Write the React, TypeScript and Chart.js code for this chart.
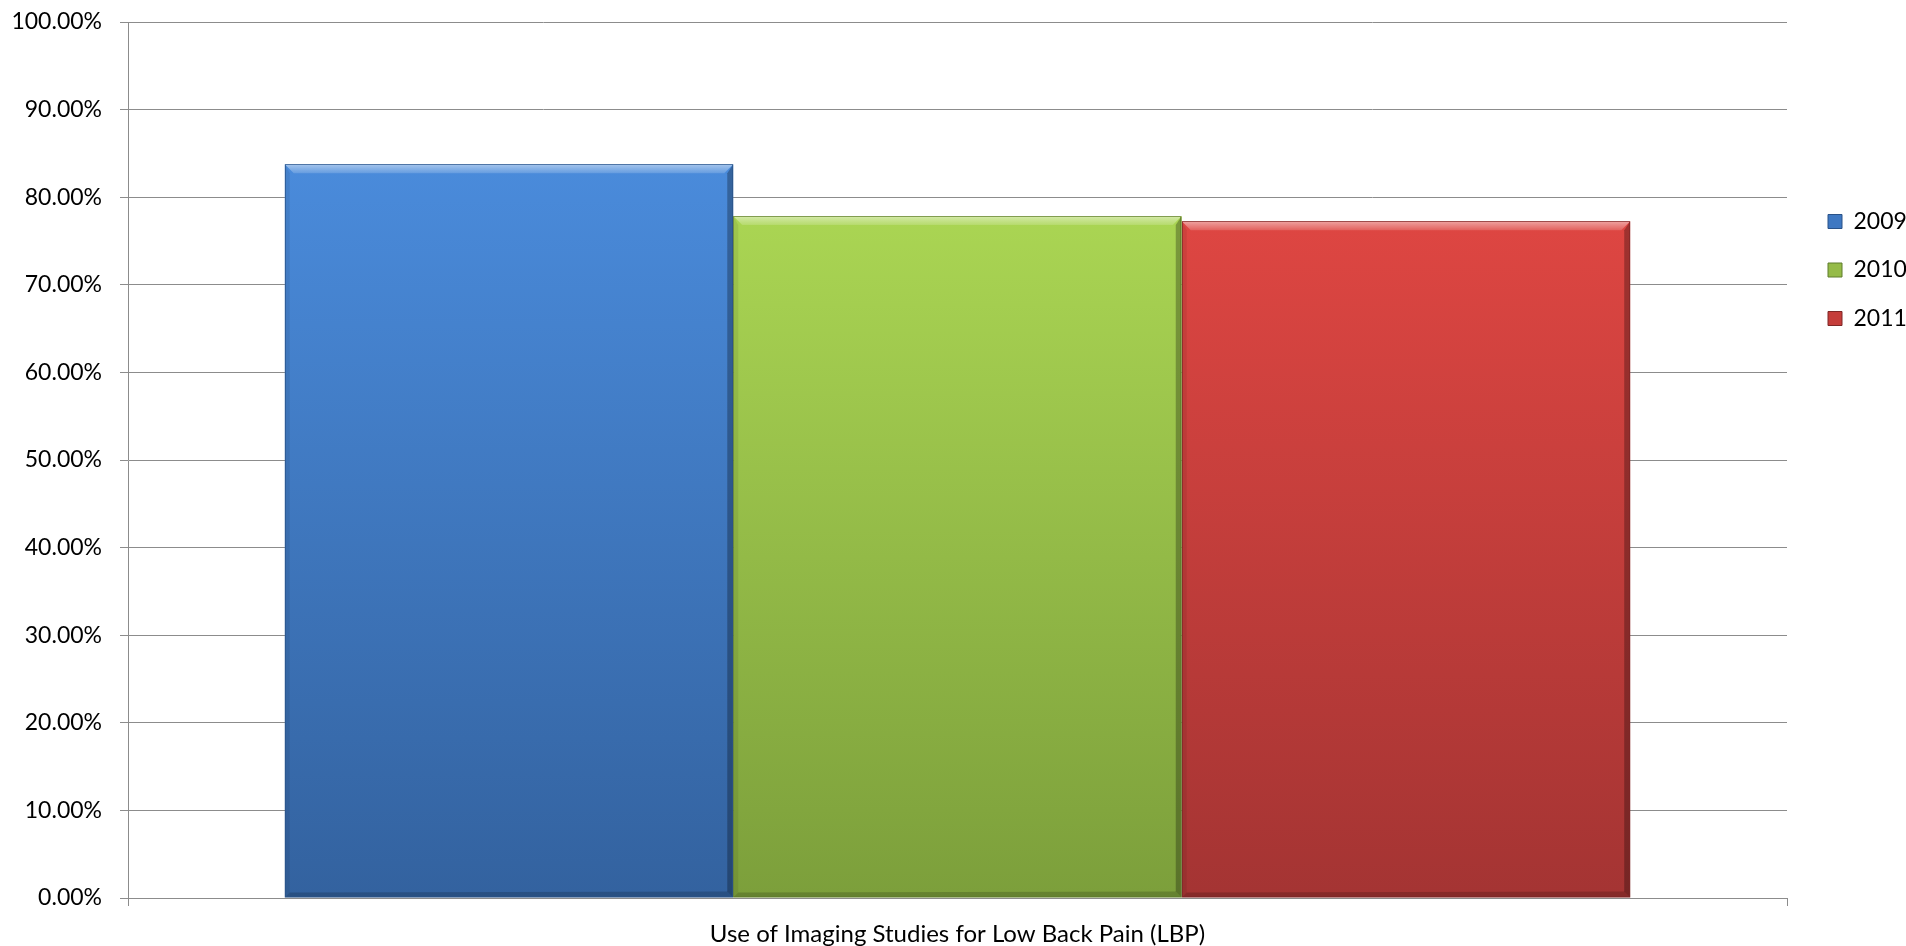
import React, { useEffect, useRef } from 'react';
import { Chart, registerables } from 'chart.js';

Chart.register(...registerables);

const categories: string[] = ['Use of Imaging Studies for Low Back Pain (LBP)'];
const seriesNames: string[] = ['2009', '2010', '2011'];
const values2009: number[] = [0.8375];
const values2010: number[] = [0.7785];
const values2011: number[] = [0.7725];
const yTickValues: number[] = [0, 0.1, 0.2, 0.3, 0.4, 0.5, 0.6, 0.7, 0.8, 0.9, 1.0];

const topColors = ['#4a8bdb', '#aad553', '#de4642'];
const bottomColors = ['#33629f', '#7c9f3b', '#a43433'];
const midColors = ['#3f78c2', '#95bb48', '#c53d3a'];
const edgeColors = ['#2a5288', '#5f7c2c', '#7e2726'];

const FONT = 'Lato, "Open Sans", "Liberation Sans", sans-serif';
const GRID = '#8c8c8c';

const gradientFill = (i: number) => (ctx: any) => {
  const chart = ctx.chart;
  const area = chart.chartArea;
  if (!area || ctx.parsed == null || ctx.parsed.y == null) return midColors[i];
  const yScale = chart.scales.y;
  const t = yScale.getPixelForValue(ctx.parsed.y);
  const b = yScale.getPixelForValue(0);
  const g = chart.ctx.createLinearGradient(0, t, 0, b);
  g.addColorStop(0, topColors[i]);
  g.addColorStop(1, bottomColors[i]);
  return g;
};

const bevelPlugin = {
  id: 'bevel',
  afterDatasetsDraw(chart: any) {
    const c = chart.ctx;
    chart.data.datasets.forEach((_ds: any, i: number) => {
      const meta = chart.getDatasetMeta(i);
      meta.data.forEach((bar: any) => {
        const { x, y, base, width } = bar.getProps(['x', 'y', 'base', 'width'], true);
        const l = x - width / 2;
        const r = x + width / 2;
        const t = y;
        const b = base;
        const bv = 9;
        c.save();
        const tg = c.createLinearGradient(0, t, 0, t + bv);
        tg.addColorStop(0, 'rgba(255,255,255,0.5)');
        tg.addColorStop(1, 'rgba(255,255,255,0.15)');
        c.fillStyle = tg;
        c.beginPath();
        c.moveTo(l, t);
        c.lineTo(r, t);
        c.lineTo(r - bv, t + bv);
        c.lineTo(l + bv, t + bv);
        c.closePath();
        c.fill();
        c.fillStyle = 'rgba(0,0,0,0.28)';
        c.beginPath();
        c.moveTo(r, t);
        c.lineTo(r, b);
        c.lineTo(r - 6, b - 6);
        c.lineTo(r - 6, t + bv);
        c.closePath();
        c.fill();
        c.fillStyle = 'rgba(0,0,0,0.07)';
        c.beginPath();
        c.moveTo(l, t);
        c.lineTo(l + 5, t + bv);
        c.lineTo(l + 5, b - 5);
        c.lineTo(l, b);
        c.closePath();
        c.fill();
        c.fillStyle = 'rgba(0,0,0,0.18)';
        c.beginPath();
        c.moveTo(l, b);
        c.lineTo(r, b);
        c.lineTo(r - 6, b - 6);
        c.lineTo(l + 5, b - 5);
        c.closePath();
        c.fill();
        c.strokeStyle = edgeColors[i];
        c.globalAlpha = 0.7;
        c.lineWidth = 1;
        c.strokeRect(Math.round(l) + 0.5, Math.round(t) + 0.5, Math.round(r - l) - 1, Math.round(b - t) - 1);
        c.restore();
      });
    });
  },
};

const legendPlace = {
  id: 'legendPlace',
  afterLayout(chart: any) {
    const lg = chart.legend;
    if (!lg) return;
    const pad = lg.options.labels.padding;
    lg.left = 1828 - pad;
    lg.top = 210 - pad;
    lg.right = 1906;
    lg.bottom = 600;
    lg.width = lg.right - lg.left;
    lg.height = lg.bottom - lg.top;
  },
};

export default function App() {
  const canvasRef = useRef<HTMLCanvasElement | null>(null);

  useEffect(() => {
    if (!canvasRef.current) return;
    const seriesValues = [values2009, values2010, values2011];
    const chart = new Chart(canvasRef.current, {
      type: 'bar',
      data: {
        labels: categories,
        datasets: seriesNames.map((name, i) => ({
          label: name,
          data: seriesValues[i],
          backgroundColor: gradientFill(i),
          borderWidth: 0,
          categoryPercentage: 0.811,
          barPercentage: 1.0,
        })),
      },
      options: {
        responsive: false,
        animation: false,
        layout: { padding: { top: 22, right: 119, left: 0, bottom: 0 } },
        plugins: {
          title: { display: false },
          tooltip: { enabled: false },
          legend: {
            display: true,
            position: 'chartArea',
            align: 'start',
            labels: {
              boxWidth: 14,
              boxHeight: 14,
              padding: 25.5,
              color: '#000',
              font: { family: FONT, size: 23 },
              generateLabels: () =>
                seriesNames.map((name, i) => ({
                  text: name,
                  fillStyle: midColors[i],
                  strokeStyle: edgeColors[i],
                  lineWidth: 1,
                  hidden: false,
                  datasetIndex: i,
                })),
            },
          },
        },
        scales: {
          x: {
            type: 'category',
            offset: true,
            grid: {
              display: true,
              offset: true,
              drawOnChartArea: false,
              drawTicks: true,
              tickLength: 8,
              color: GRID,
              lineWidth: 1,
            },
            border: { display: true, color: GRID, width: 1 },
            ticks: {
              padding: 14,
              color: '#000',
              font: { family: FONT, size: 24 },
              maxRotation: 0,
              autoSkip: false,
            },
            afterFit: (scale: any) => {
              scale.height = 48;
              scale.paddingLeft = 0;
              scale.paddingRight = 0;
            },
          },
          y: {
            min: 0,
            max: 1,
            afterBuildTicks: (scale: any) => {
              scale.ticks = yTickValues.map((v) => ({ value: v }));
            },
            grid: {
              display: true,
              drawTicks: true,
              tickLength: 8,
              color: GRID,
              lineWidth: 1,
            },
            border: { display: true, color: GRID, width: 1 },
            ticks: {
              padding: 18,
              color: '#000',
              font: { family: FONT, size: 23 },
              callback: (v: any) => (Number(v) * 100).toFixed(2) + '%',
            },
            afterFit: (scale: any) => {
              scale.width = 128;
              scale.paddingTop = 0;
              scale.paddingBottom = 0;
            },
          },
        },
      },
      plugins: [bevelPlugin, legendPlace],
    });
    return () => chart.destroy();
  }, []);

  return (
    <div style={{ position: 'fixed', left: 0, top: 0, width: 1906, height: 946, background: '#fff' }}>
      <canvas ref={canvasRef} width={1906} height={946} style={{ display: 'block' }} />
    </div>
  );
}
